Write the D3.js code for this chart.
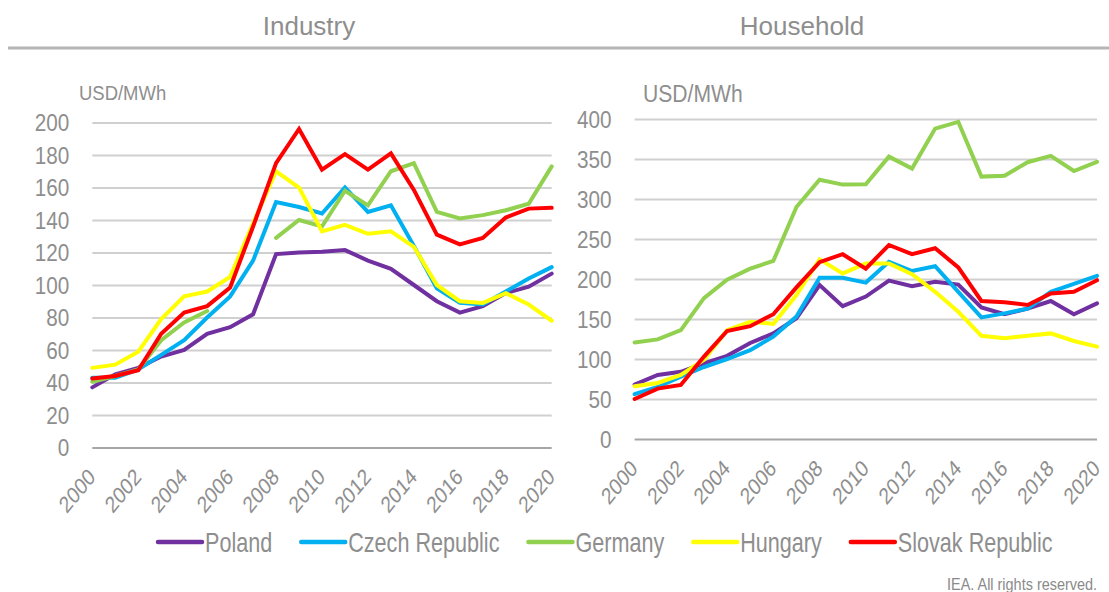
<!DOCTYPE html>
<html lang="en">
  <head>
    <meta charset="utf-8">
    <title>Electricity prices - Industry and Household</title>
    <script src="https://cdn.jsdelivr.net/npm/d3@7"></script>
    <style>
      body { margin: 0; background: #fff; }
      svg { display: block; font-family: "Liberation Sans", Arial, sans-serif; }
      .grid line { stroke: #d0d0d0; stroke-width: 2px; }
      .grid path { display: none; }
      .axis--x path { display: none; }
      .series { fill: none; stroke-width: 4px; stroke-linecap: round; stroke-linejoin: miter; }
    </style>
  </head>
  <body>
    <svg width="1109" height="592"></svg>

<script>

// ---- data, USD/MWh ----
var years = [2000, 2001, 2002, 2003, 2004, 2005, 2006, 2007, 2008, 2009, 2010,
             2011, 2012, 2013, 2014, 2015, 2016, 2017, 2018, 2019, 2020];
var yearTicks = [2000, 2002, 2004, 2006, 2008, 2010, 2012, 2014, 2016, 2018, 2020];
var industryTicks = [0, 20, 40, 60, 80, 100, 120, 140, 160, 180, 200];
var householdTicks = [0, 50, 100, 150, 200, 250, 300, 350, 400];

var countries = ["Poland", "Czech Republic", "Germany", "Hungary", "Slovak Republic"];
var colors = ["#7030a0", "#00b0f0", "#92d050", "#ffff00", "#ff0000"];

var industryPoland  = [37, 45, 49, 56, 60, 70, 74, 82, 119, 120, 120.5, 121.5, 115, 110, 100, 90, 83, 87, 95, 99, 107];
var industryCzech   = [43, 43, 48, 57, 66, 80, 93, 115, 151, 148, 144, 160, 145, 149, 124, 98, 89, 88, 96, 104, 111];
var industryGermany = [40.5, 44, 48, 66, 77, 84, null, null, 129, 140, 136, 158, 149, 170, 175, 145, 141, 143, 146, 150, 173];
var industryHungary = [49, 51, 59, 79, 93, 96, 105, 138, 170, 160, 133, 137, 131.5, 133, 123.5, 100, 90, 89, 95, 88, 78];
var industrySlovak  = [42.5, 44, 47.5, 70, 83, 87, 98.5, 136, 175, 196, 171, 180.5, 171, 181, 158.5, 131, 125, 129, 141.5, 147, 147.5];

var householdPoland  = [68, 80, 84, 94.5, 104, 120, 132, 151, 192.5, 166, 178, 198, 191, 196.5, 193, 164.5, 156, 163, 172.5, 156, 169.5];
var householdCzech   = [56, 65, 78, 90, 100, 111, 128, 153, 201.5, 201.5, 195.5, 221.5, 210, 216, 184, 152, 157, 163, 184, 194, 204];
var householdGermany = [120.5, 124.5, 136, 176, 199, 213, 222.5, 290, 324, 318, 318.5, 353, 338, 388, 396.5, 328, 329, 346, 354, 335, 346.5];
var householdHungary = [66, 70, 80, 99, 136, 146.5, 144, 180, 224.5, 207, 219.5, 219.5, 206, 184, 159, 129, 126, 129, 132, 122.5, 115.5];
var householdSlovak  = [50, 63, 67.5, 103, 135, 141, 156, 189.5, 221, 231, 213, 242.5, 231, 238.5, 214.5, 172.5, 171, 167.5, 182, 184, 198.5];

var textColor = "#8e8e8e";
var svg = d3.select("svg");

// header
svg.append("rect").attr("width", 1109).attr("height", 592).attr("fill", "#fff");
svg.append("line")
    .attr("x1", 8).attr("x2", 1109).attr("y1", 48).attr("y2", 48)
    .attr("stroke", "#b5b5b5").attr("stroke-width", 3);

function panel(opts) {
  var x = d3.scaleLinear().domain([2000, 2020]).range([opts.left, opts.right]),
      y = d3.scaleLinear().domain([0, opts.max]).range([opts.bottom, opts.top]);

  svg.append("text")
      .attr("x", opts.titleX).attr("y", 35)
      .attr("text-anchor", "middle")
      .attr("fill", textColor)
      .style("font-size", "26px")
      .text(opts.title);

  // unit label, slightly condensed like the source picture
  svg.append("text")
      .attr("transform", "translate(" + opts.unitX + "," + opts.unitY + ") scale(0.88,1)")
      .attr("fill", textColor)
      .style("font-size", opts.unitSize + "px")
      .text("USD/MWh");

  var grid = svg.append("g")
      .attr("class", "grid")
      .attr("transform", "translate(" + opts.left + ",0)")
      .call(d3.axisLeft(y).tickValues(opts.ticks).tickSize(-(opts.right - opts.left)).tickPadding(0));

  grid.selectAll(".tick line")
      .style("stroke", function(d) { return d === 0 ? "#a6a6a6" : "#d0d0d0"; });

  grid.selectAll(".tick text")
      .attr("fill", textColor)
      .attr("x", -23 / 0.9)
      .attr("dy", "0.35em")
      .attr("transform", "scale(0.9,1)")
      .style("font-size", "23px")
      .style("font-family", "'Liberation Sans', Arial, sans-serif");

  var xAxis = svg.append("g")
      .attr("class", "axis axis--x")
      .attr("transform", "translate(0," + opts.bottom + ")")
      .call(d3.axisBottom(x).tickValues(yearTicks).tickSize(0).tickFormat(d3.format("d")));

  xAxis.selectAll(".tick text")
      .attr("fill", textColor)
      .attr("x", 0).attr("y", 0).attr("dy", "0.35em")
      .attr("text-anchor", "end")
      .attr("transform", "translate(-1,25) scale(0.82,1) rotate(-45)")
      .style("font-size", "23px")
      .style("font-family", "'Liberation Sans', Arial, sans-serif");

  var line = d3.line()
      .defined(function(d) { return d != null; })
      .x(function(d, i) { return x(years[i]); })
      .y(function(d) { return y(d); });

  svg.append("g").selectAll("path")
    .data(opts.series)
    .enter().append("path")
      .attr("class", "series")
      .attr("stroke", function(d, i) { return colors[i]; })
      .attr("d", function(d) { return line(d); });
}

panel({
  title: "Industry", titleX: 309,
  left: 92.3, right: 551.7, top: 122.5, bottom: 447.5, max: 200,
  ticks: industryTicks,
  unitX: 79, unitY: 100, unitSize: 21,
  series: [industryPoland, industryCzech, industryGermany, industryHungary, industrySlovak]
});

panel({
  title: "Household", titleX: 802,
  left: 634.6, right: 1097, top: 119, bottom: 439, max: 400,
  ticks: householdTicks,
  unitX: 643, unitY: 102, unitSize: 24,
  series: [householdPoland, householdCzech, householdGermany, householdHungary, householdSlovak]
});

// legend
var legend = svg.append("g").attr("class", "legend");
var lx = 158, sx = 0.8;
countries.forEach(function(name, i) {
  legend.append("line")
      .attr("x1", lx).attr("x2", lx + 44)
      .attr("y1", 542).attr("y2", 542)
      .attr("stroke", colors[i]).attr("stroke-width", 4.5)
      .attr("stroke-linecap", "round");
  var t = legend.append("text")
      .attr("transform", "translate(" + (lx + 47) + ",552) scale(" + sx + ",1)")
      .attr("fill", textColor)
      .style("font-size", "27px")
      .text(name);
  lx += 47 + t.node().getComputedTextLength() * sx + 29;
});

svg.append("text")
    .attr("transform", "translate(947,590) scale(0.85,1)")
    .attr("fill", "#8a8a8a")
    .style("font-size", "17px")
    .text("IEA. All rights reserved.");

</script>
  </body>
</html>
